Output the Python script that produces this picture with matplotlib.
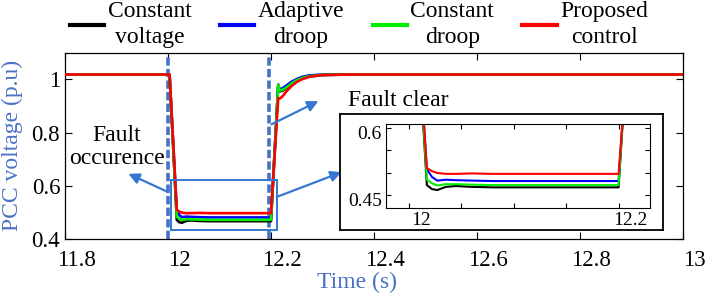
"""PCC voltage during a fault: four control schemes with a zoomed inset."""

import matplotlib
matplotlib.use("Agg")
import matplotlib.pyplot as plt
import matplotlib.transforms as mtransforms
from matplotlib.patches import Rectangle

plt.rcParams["font.family"] = ["Liberation Serif", "DejaVu Serif"]

# time axis shared by all series (s)
time_s = [11.8, 12.003, 12.017, 12.022, 12.027, 12.035, 12.045, 12.06, 12.08,
          12.12, 12.16, 12.2, 12.214, 12.217, 12.222, 12.23, 12.24, 12.25,
          12.26, 12.275, 12.3, 12.35, 13.0]

v_constant_voltage = [1.018, 1.018, 0.472, 0.463, 0.461, 0.468, 0.470, 0.468, 0.467,
                      0.467, 0.467, 0.467, 0.980, 0.955, 0.957, 0.967, 0.982, 0.995,
                      1.004, 1.011, 1.016, 1.018, 1.018]
v_adaptive_droop = [1.018, 1.018, 0.507, 0.490, 0.482, 0.484, 0.483, 0.482, 0.481,
                    0.481, 0.481, 0.481, 0.975, 0.962, 0.966, 0.977, 0.991, 1.001,
                    1.009, 1.015, 1.018, 1.018, 1.018]
v_constant_droop = [1.018, 1.018, 0.484, 0.476, 0.471, 0.474, 0.474, 0.473, 0.472,
                    0.472, 0.472, 0.472, 0.978, 0.958, 0.960, 0.970, 0.985, 0.997,
                    1.005, 1.012, 1.017, 1.018, 1.018]
v_proposed = [1.018, 1.018, 0.510, 0.503, 0.499, 0.497, 0.497, 0.498, 0.497,
              0.497, 0.497, 0.497, 0.930, 0.928, 0.935, 0.955, 0.975, 0.990,
              1.000, 1.010, 1.016, 1.018, 1.018]

series = [
    ("Constant\nvoltage", v_constant_voltage, "black"),
    ("Adaptive\ndroop", v_adaptive_droop, "#0000ff"),
    ("Constant\ndroop", v_constant_droop, "#00ee00"),
    ("Proposed\ncontrol", v_proposed, "#ff0000"),
]

fault_start = 12.0
fault_clear = 12.196
zoom_t = (12.005, 12.211)
zoom_v = (0.434, 0.622)

main_xticks = [11.8, 12.0, 12.2, 12.4, 12.6, 12.8, 13.0]
main_xlabels = ["11.8", "12", "12.2", "12.4", "12.6", "12.8", "13"]
main_yticks = [0.4, 0.6, 0.8, 1.0]
main_ylabels = ["0.4", "0.6", "0.8", "1"]
inset_xticks = [12.0, 12.05, 12.1, 12.15, 12.2]
inset_xlabels = ["12", "", "", "", "12.2"]
inset_yticks = [0.45, 0.5, 0.55, 0.6]
inset_ylabels = ["0.45", "", "", "0.6"]

label_blue = "#4a72c4"
note_blue = "#3577d2"


def shift_ticklabels(axis, dx_px, dy_px, fig):
    """Move tick labels by a fixed pixel offset."""
    offset = mtransforms.ScaledTranslation(dx_px / fig.dpi, -dy_px / fig.dpi,
                                           fig.dpi_scale_trans)
    for tick in axis.get_major_ticks():
        tick.label1.set_transform(tick.label1.get_transform() + offset)


fig = plt.figure(figsize=(7.06, 2.99), dpi=100)
ax = fig.add_axes([0.0921, 0.2007, 0.8753, 0.623])

handles = []
for name, values, color in series:
    line, = ax.plot(time_s, values, color=color, lw=1.9, zorder=3, label=name)
    handles.append(line)

for t in (fault_start, fault_clear):
    ax.axvline(t, color="#4472c4", lw=2.6, ls=(0, (2.3, 0.9)), zorder=2)

ax.add_patch(Rectangle((zoom_t[0], zoom_v[0]), zoom_t[1] - zoom_t[0],
                       zoom_v[1] - zoom_v[0], fill=False, ec=note_blue,
                       lw=1.4, zorder=4))

arrow = dict(arrowstyle="-|>", color=note_blue, lw=1.6, mutation_scale=16,
             shrinkA=0, shrinkB=0)
ax.annotate("", xy=(11.923, 0.645), xytext=(12.0006, 0.576), arrowprops=arrow)
ax.annotate("", xy=(12.292, 0.918), xytext=(12.201, 0.831), arrowprops=arrow)
ax.annotate("", xy=(12.337, 0.651), xytext=(12.211, 0.558), arrowprops=arrow)

ax.text(11.901, 0.746, "Fault\noccurence", ha="center", va="center",
        fontsize=17, linespacing=1.15)
ax.text(12.447, 0.921, "Fault clear", ha="center", va="center", fontsize=17)

ax.set_xlim(11.8, 13.0)
ax.set_ylim(0.4, 1.1)
ax.set_xticks(main_xticks, main_xlabels)
ax.set_yticks(main_yticks, main_ylabels)
ax.tick_params(direction="in", top=True, right=True, labelsize=16.5,
               length=5, width=0.8)
ax.tick_params(axis="x", pad=8)
for spine in ax.spines.values():
    spine.set_linewidth(0.9)
shift_ticklabels(ax.xaxis, 11, 0, fig)

ax.set_xlabel("Time (s)", fontsize=17, color=label_blue)
ax.xaxis.set_label_coords(0.4725, -0.175)
ax.set_ylabel("PCC voltage (p.u)", fontsize=17, color=label_blue)
ax.yaxis.set_label_coords(-0.068, 0.5)

# white frame behind the inset
frame = fig.add_axes([0.4816, 0.2308, 0.4575, 0.388])
frame.set_xticks([])
frame.set_yticks([])
for spine in frame.spines.values():
    spine.set_linewidth(1.3)

inset = fig.add_axes([0.5467, 0.3043, 0.374, 0.2810])
for name, values, color in series:
    inset.plot(time_s, values, color=color, lw=1.5)
inset.set_xlim(11.978, 12.23)
inset.set_ylim(0.421, 0.608)
inset.set_xticks(inset_xticks, inset_xlabels)
inset.set_yticks(inset_yticks, inset_ylabels)
inset.tick_params(direction="in", top=True, right=True, labelsize=14,
                  length=3.5, width=0.8, pad=3)
shift_ticklabels(inset.xaxis, 12, 0, fig)
shift_ticklabels(inset.yaxis, 0, 5, fig)

leg = fig.legend(handles=handles, loc="upper center", ncol=4,
                 bbox_to_anchor=(0.5085, 0.995), frameon=False, fontsize=17,
                 handlelength=1.45, handletextpad=0.15, columnspacing=1.2,
                 borderaxespad=0, borderpad=0)
for text in leg.get_texts():
    text.set_multialignment("center")
    text.set_linespacing(1.3)
for line in leg.get_lines():
    line.set_linewidth(3)

fig.savefig("out.png", dpi=100)
